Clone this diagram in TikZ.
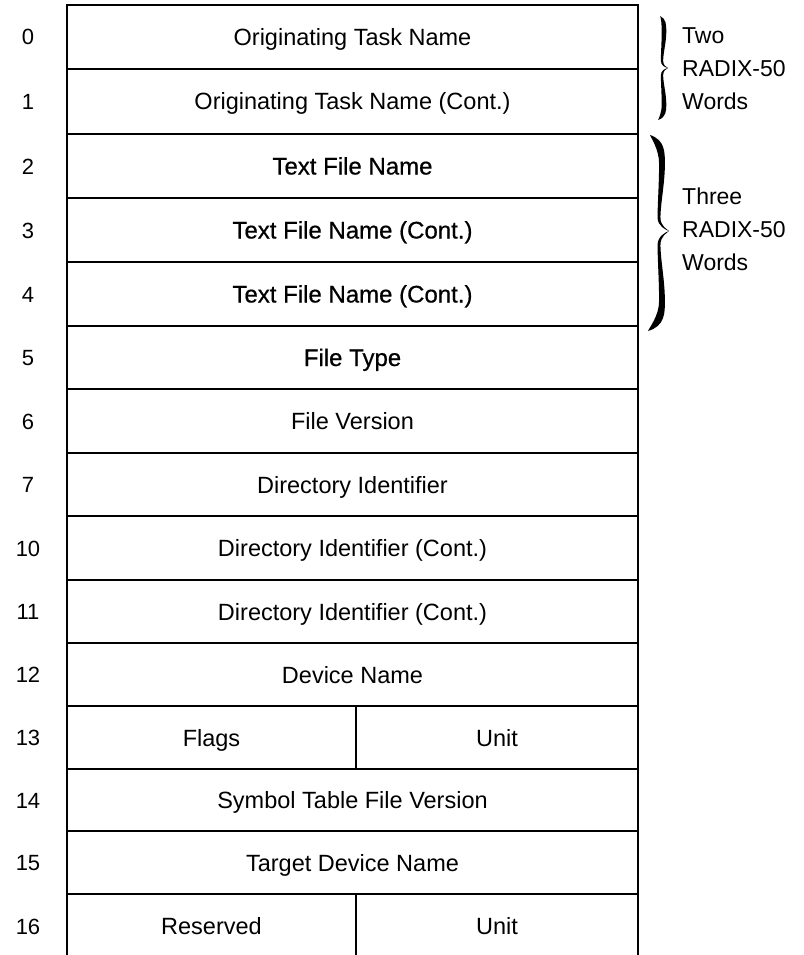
\documentclass[tikz,border=0pt]{standalone}
\usepackage{fontspec}
\setmainfont{Liberation Sans}
\newfontfamily\heavyfont[FakeBold=0.6]{Liberation Sans}

% One arm of a curly brace, filled: end x, end y, tip x, tip y, bulge x, inner x, half width
\newcommand\bracearm[7]{%
  \fill ({#1},{#2})
   .. controls ({#5+#7},{#4+0.95*(#2-#4)}) and ({#5+#7},{#4+0.82*(#2-#4)}) .. ({#5+#7},{#4+0.7*(#2-#4)})
   .. controls ({#5+#7},{#4+0.5*(#2-#4)}) and ({#6+0.5*#7},{#4+0.28*(#2-#4)}) .. ({#6+0.5*#7},{#4+0.14*(#2-#4)})
   .. controls ({#6+0.5*#7},{#4+0.05*(#2-#4)}) and ({#3-2},{#4+0.02*(#2-#4)}) .. ({#3},{#4})
   .. controls ({#3-3},{#4+0.01*(#2-#4)}) and ({#6-0.5*#7},{#4+0.05*(#2-#4)}) .. ({#6-0.5*#7},{#4+0.14*(#2-#4)})
   .. controls ({#6-0.5*#7},{#4+0.28*(#2-#4)}) and ({#5-#7},{#4+0.5*(#2-#4)}) .. ({#5-#7},{#4+0.7*(#2-#4)})
   .. controls ({#5-#7},{#4+0.85*(#2-#4)}) and ({#1+1},{#4+0.97*(#2-#4)}) .. ({#1},{#2}) -- cycle;
}

\begin{document}
\begin{tikzpicture}[x=1pt,y=-1pt,
  rule/.style={line width=1.8pt},
  cell/.style={draw, rule, inner sep=0pt, outer sep=0pt, text height=17pt, text depth=0pt},
  plain/.style={font=\fontsize{23.5}{28}\selectfont},
  heavy/.style={font=\heavyfont\fontsize{24}{28}\selectfont},
  num/.style={font=\fontsize{22}{26}\selectfont, text height=16pt, text depth=0pt, inner sep=0pt},
  side/.style={font=\fontsize{23}{33}\selectfont, align=left, anchor=west, inner sep=0pt}]
\useasboundingbox (0,0) rectangle (803,955);

% full-width words of the block
\foreach \n/\t/\b/\txt/\s in {
  0/5/69/Originating Task Name/plain,
  1/69/134/Originating Task Name (Cont.)/plain,
  2/134/198/Text File Name/heavy,
  3/198/262/Text File Name (Cont.)/heavy,
  4/262/326/Text File Name (Cont.)/heavy,
  5/326/389/File Type/heavy,
  6/389/453/File Version/plain,
  7/453/516/Directory Identifier/plain,
  10/516/580/Directory Identifier (Cont.)/plain,
  11/580/643/Directory Identifier (Cont.)/plain,
  12/643/706/Device Name/plain,
  14/769/831/Symbol Table File Version/plain,
  15/831/894/Target Device Name/plain}
{
  \node[cell, \s, minimum width=571pt, minimum height={\b-\t}] (w\n) at (352.5,{(\t+\b)/2}) {\txt};
  \node[num] (n\n) at (28,{(\t+\b)/2}) {\n};
}

% words split into two bytes
\node[cell, plain, minimum width=289pt, minimum height=63pt] (w13a) at (211.5,737.5) {Flags};
\node[cell, plain, minimum width=282pt, minimum height=63pt] (w13b) at (497,737.5) {Unit};
\node[num] (n13) at (28,737.5) {13};
\node[cell, plain, minimum width=289pt, minimum height=64pt] (w16a) at (211.5,926) {Reserved};
\node[cell, plain, minimum width=282pt, minimum height=64pt] (w16b) at (497,926) {Unit};
\node[num] (n16) at (28,926) {16};

% braces and their notes
\bracearm{660}{16}{668}{68}{664}{662}{2.3}
\bracearm{658}{120}{668}{68}{664}{662}{2.3}
\bracearm{650}{135}{669}{231}{662}{659}{2.9}
\bracearm{648}{331}{669}{231}{662}{659}{2.9}
\node[side] (two) at (682,69) {Two\\RADIX-50\\Words};
\node[side] (three) at (682,229) {Three\\RADIX-50\\Words};
\end{tikzpicture}
\end{document}
